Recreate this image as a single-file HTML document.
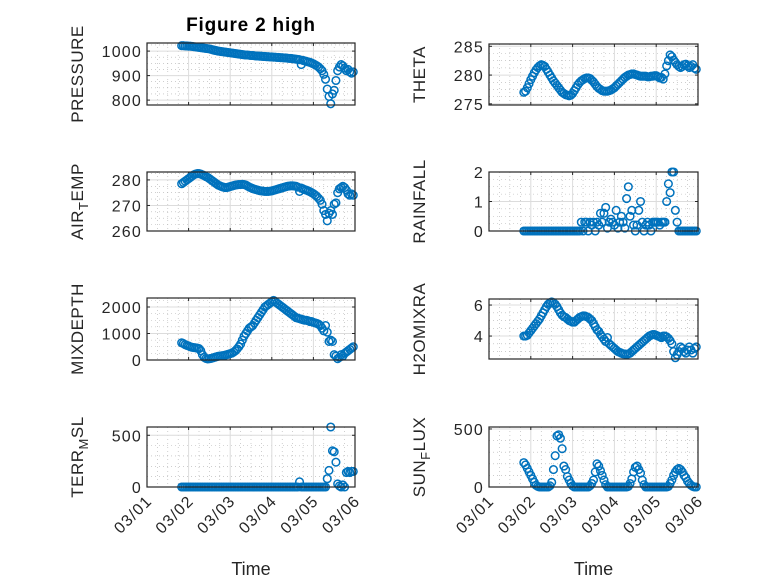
<!DOCTYPE html>
<html><head><meta charset="utf-8"><style>
html,body{margin:0;padding:0;background:#fff;}
svg{display:block;font-family:"Liberation Sans",sans-serif;}
</style></head><body>
<svg id="chart" width="778" height="583" viewBox="0 0 778 583" xmlns="http://www.w3.org/2000/svg">
<rect width="778" height="583" fill="#fff"/>
<text x="251" y="31" text-anchor="middle" font-size="19" font-weight="bold" letter-spacing="0.8" fill="#000">Figure 2 high</text>
</svg>
<script>
// hourly samples starting 03/01 20:00
const startHour = 20;
const xTickLabels = ["03/01","03/02","03/03","03/04","03/05","03/06"];
const pressure = [1022,1022,1021,1021,1020,1020,1019,1018,1017,1016,1015,1014,1013,1012,1011,1010,1009,1007,1005,1003,1002,1000,999,998,997,996,995,994,993,992,991,990,989,988,987,986,985,984,984,983,982,982,981,980,980,979,979,978,978,977,977,976,976,975,975,974,974,973,973,972,972,971,970,970,969,968,967,966,965,945,962,960,958,956,954,951,948,944,940,935,928,920,905,885,845,815,785,825,840,880,920,935,945,940,930,920,925,915,910,915];
const airTemp = [278.5,279,279.5,280,280.5,281,281.5,282,282.3,282.5,282.5,282.3,282,281.7,281.3,281,280.5,280,279.5,279,278.5,278,277.7,277.4,277.2,277,277,277.2,277.4,277.6,277.8,278,278.1,278.2,278.2,278.3,278.2,278,277.6,277.2,276.9,276.6,276.4,276.2,276,275.8,275.7,275.6,275.5,275.5,275.5,275.6,275.7,275.9,276.1,276.3,276.5,276.7,276.9,277.1,277.3,277.5,277.6,277.7,277.7,277.6,277.5,277.2,275.5,276.8,276.5,276.2,276,275.7,275.4,275,274.6,274.1,273.5,272.8,272,270.5,268,266.5,264,267,268,266.5,270.5,271,275,276.5,277,277.5,277,276,274.5,274,274.5,274];
const mixDepth = [650,620,580,550,530,500,480,470,460,450,430,350,200,100,60,40,50,60,80,100,120,140,150,160,170,180,200,220,240,260,300,350,420,500,600,750,900,1000,1100,1200,1250,1300,1400,1500,1600,1700,1800,1900,2000,2050,2100,2150,2200,2250,2200,2150,2100,2050,2000,1950,1900,1850,1800,1750,1700,1650,1600,1580,1560,1540,1520,1500,1500,1480,1450,1450,1420,1400,1380,1350,1300,1200,1100,1300,1050,700,750,700,200,150,50,100,200,150,250,300,350,400,450,500];
const terrMsl = [0,0,0,0,0,0,0,0,0,0,0,0,0,0,0,0,0,0,0,0,0,0,0,0,0,0,0,0,0,0,0,0,0,0,0,0,0,0,0,0,0,0,0,0,0,0,0,0,0,0,0,0,0,0,0,0,0,0,0,0,0,0,0,0,0,0,0,0,50,0,0,0,0,0,0,0,0,0,0,0,0,0,0,0,80,160,580,350,340,240,30,10,0,20,0,140,150,140,150,150];
const theta = [277,277.2,277.8,278.5,279.2,279.8,280.4,280.9,281.3,281.6,281.8,281.7,281.5,281,280.5,280,279.5,279,278.6,278.2,277.8,277.4,277,276.8,276.6,276.5,276.4,276.5,276.8,277.3,277.8,278.3,278.7,279,279.2,279.4,279.5,279.5,279.4,279.1,278.8,278.4,278,277.7,277.5,277.3,277.2,277.2,277.2,277.3,277.4,277.6,277.8,278.1,278.4,278.7,279,279.3,279.6,279.8,280,280.1,280.2,280.2,280.1,280,279.9,279.8,279.8,279.8,279.8,279.7,279.7,279.8,279.8,279.9,279.9,279.7,279.5,279.6,279.3,280.2,281.6,282.5,283.5,283.2,282.6,282.2,281.8,281.5,281.3,281.5,281.8,281.9,281.6,281.3,281.5,281.8,281.2,281];
const rainfall = [0,0,0,0,0,0,0,0,0,0,0,0,0,0,0,0,0,0,0,0,0,0,0,0,0,0,0,0,0,0,0,0,0,0.3,0,0.3,0.3,0,0.3,0.2,0.3,0,0.3,0.2,0.6,0.3,0.6,0.8,0.1,0.3,0.4,0.3,0.2,0.7,0.1,0.3,0.5,0.3,0.1,1.1,1.5,0.5,0.7,0.2,0,0.2,0.7,1.0,0.3,0,0.2,0.3,0.2,0,0.3,0.3,0.3,0.3,0.2,0.3,0.3,0.3,1.0,1.6,1.3,2.0,2.0,0.7,0.3,0,0,0,0,0,0,0,0,0,0,0];
const h2oMixRa = [4.0,4.0,4.05,4.2,4.35,4.5,4.65,4.8,4.95,5.1,5.3,5.5,5.7,5.9,6.05,6.15,6.2,6.15,6.05,5.9,5.7,5.5,5.35,5.25,5.2,5.1,5.0,4.95,4.9,4.9,5.0,5.1,5.2,5.25,5.3,5.3,5.25,5.2,5.1,5.0,4.8,4.6,4.4,4.3,4.1,3.95,3.8,3.65,3.9,3.5,3.4,3.3,3.2,3.1,3.0,2.95,2.9,2.85,2.85,2.8,2.85,2.9,3.0,3.1,3.2,3.3,3.4,3.5,3.6,3.7,3.8,3.9,4.0,4.05,4.1,4.1,4.05,4.0,3.95,3.9,4.0,4.0,3.95,3.85,3.7,3.5,3.0,2.6,2.8,3.0,3.3,3.2,3.0,2.9,3.1,3.3,3.1,2.9,3.2,3.3];
const sunFlux = [210,190,160,130,100,70,40,15,5,0,0,0,0,0,0,10,40,150,270,440,450,420,330,180,150,90,60,30,10,0,0,0,0,0,0,0,0,0,10,30,60,130,200,180,140,100,60,20,0,0,0,0,0,0,0,0,0,0,0,0,5,30,70,130,170,180,150,120,60,20,0,0,0,0,0,0,0,0,0,0,0,0,0,5,30,60,100,130,150,160,150,130,100,80,50,30,15,5,0,0];

const panels = [
 {name:"pressure",label:["PRESSURE"],data:pressure,L:147,R:355,T:43,B:105,ymin:780,ymax:1033,ticks:[800,900,1000],minor:25,bottom:false},
 {name:"theta",label:["THETA"],data:theta,L:489,R:698,T:44,B:105,ymin:274.8,ymax:285.4,ticks:[275,280,285],minor:1.25,bottom:false},
 {name:"air-temp",label:["AIR","T","EMP"],data:airTemp,L:147,R:355,T:172,B:231,ymin:260,ymax:283.1,ticks:[260,270,280],minor:2.5,bottom:false},
 {name:"rainfall",label:["RAINFALL"],data:rainfall,L:489,R:698,T:172,B:231,ymin:0,ymax:2,ticks:[0,1,2],minor:0.25,bottom:false},
 {name:"mixdepth",label:["MIXDEPTH"],data:mixDepth,L:147,R:355,T:298,B:360,ymin:0,ymax:2340,ticks:[0,1000,2000],minor:250,bottom:false},
 {name:"h2omixra",label:["H2OMIXRA"],data:h2oMixRa,L:489,R:698,T:299,B:359,ymin:2.52,ymax:6.39,ticks:[4,6],minor:0.5,bottom:false},
 {name:"terr-msl",label:["TERR","M","SL"],data:terrMsl,L:147,R:355,T:427,B:487,ymin:0,ymax:580,ticks:[0,500],minor:100,bottom:true},
 {name:"sun-flux",label:["SUN","F","LUX"],data:sunFlux,L:489,R:698,T:427,B:487,ymin:0,ymax:517,ticks:[0,500],minor:100,bottom:true}
];
const NS="http://www.w3.org/2000/svg";
const svg=document.getElementById('chart');
function mk(tag,attrs,parent){const e=document.createElementNS(NS,tag);for(const k in attrs)e.setAttribute(k,attrs[k]);(parent||svg).appendChild(e);return e;}

panels.forEach(p=>{
 const g=mk('g',{});
 
 
 const xs=h=>p.L+(h/120)*(p.R-p.L);
 const ys=v=>p.B-(v-p.ymin)/(p.ymax-p.ymin)*(p.B-p.T);
 mk('rect',{x:p.L,y:p.T,width:p.R-p.L,height:p.B-p.T,fill:'#fff'},g);
 for(let h=6;h<120;h+=6){ if(h%24===0) continue; const x=xs(h);
   mk('line',{x1:x,x2:x,y1:p.T,y2:p.B,stroke:'#b0b0b0','stroke-width':0.6,'stroke-dasharray':'1 3'},g);}
 const m0=Math.ceil(p.ymin/p.minor)*p.minor;
 for(let v=m0;v<=p.ymax+1e-9;v+=p.minor){ if(p.ticks.some(t=>Math.abs(t-v)<1e-6)) continue; const y=ys(v);
   mk('line',{x1:p.L,x2:p.R,y1:y,y2:y,stroke:'#b0b0b0','stroke-width':0.6,'stroke-dasharray':'1 3'},g);}
 for(let d=1;d<5;d++){const x=xs(d*24);mk('line',{x1:x,x2:x,y1:p.T,y2:p.B,stroke:'#dcdcdc','stroke-width':1},g);}
 p.ticks.forEach(t=>{const y=ys(t);
   mk('line',{x1:p.L,x2:p.R,y1:y,y2:y,stroke:'#dcdcdc','stroke-width':1},g);
   mk('line',{x1:p.L,x2:p.L+3,y1:y,y2:y,stroke:'#262626','stroke-width':1},g);
   mk('line',{x1:p.R-3,x2:p.R,y1:y,y2:y,stroke:'#262626','stroke-width':1},g);
   const tl=mk('text',{x:p.L-5,y:y+6,'text-anchor':'end','font-size':16,'letter-spacing':1.2,fill:'#262626'},g);
   
   
   tl.textContent=String(t);
 });
 for(let d=0;d<=5;d++){const x=xs(d*24);
   mk('line',{x1:x,x2:x,y1:p.B,y2:p.B-3,stroke:'#262626','stroke-width':1},g);
   mk('line',{x1:x,x2:x,y1:p.T,y2:p.T+3,stroke:'#262626','stroke-width':1},g);
   if(p.bottom){
     const tx=mk('text',{x:x+6,y:p.B+15,'text-anchor':'end','font-size':16,'letter-spacing':1.2,fill:'#262626',transform:`rotate(-45 ${x+6} ${p.B+15})`},g);
     
     
     tx.textContent=xTickLabels[d];
   }
 }
 p.data.forEach((v,i)=>{
   const c=mk('circle',{cx:xs(startHour+i),cy:ys(v),r:3.8,fill:'none',stroke:'#0072BD','stroke-width':1.5},g);
   
   
 });
 mk('rect',{x:p.L,y:p.T,width:p.R-p.L,height:p.B-p.T,fill:'none',stroke:'#262626','stroke-width':1.2},g);
 const lx=p.L-64, ly=(p.T+p.B)/2;
 const yl=mk('text',{x:lx,y:ly,'text-anchor':'middle','font-size':17,'letter-spacing':0.5,fill:'#262626',transform:`rotate(-90 ${lx} ${ly})`},g);
 
 
 if(p.label.length===1){yl.textContent=p.label[0];}
 else{
   const a=mk('tspan',{},yl);a.textContent=p.label[0];
   const b=mk('tspan',{dy:5,'font-size':13},yl);b.textContent=p.label[1];
   const c2=mk('tspan',{dy:-5},yl);c2.textContent=p.label[2];
 }
 if(p.bottom){
   const xt=mk('text',{x:(p.L+p.R)/2,y:575,'text-anchor':'middle','font-size':18,fill:'#262626'},g);
   
   
   xt.textContent='Time';
 }
});
</script>
</body></html>
